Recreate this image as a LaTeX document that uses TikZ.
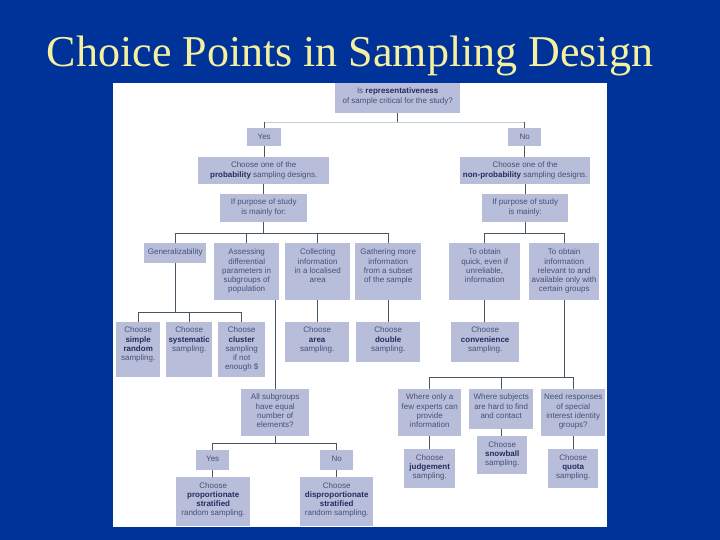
\documentclass[tikz,border=0pt]{standalone}
\usepackage{fontspec}
\setmainfont{Liberation Serif}
\newfontfamily\boxfont{Liberation Sans}
\usetikzlibrary{positioning}

\definecolor{slide}{RGB}{0,51,153}
\definecolor{titlecol}{RGB}{245,240,160}
\definecolor{boxfill}{RGB}{184,190,218}
\definecolor{boxtext}{RGB}{70,80,120}
\definecolor{boldtext}{RGB}{35,45,95}
\definecolor{linecol}{RGB}{70,85,100}
\definecolor{palebar}{RGB}{190,208,215}

\newcommand\kw[1]{\textbf{\color{boldtext}#1}}
% box with its text hung from the top edge
\newcommand\choicebox[6][5]{%
  \node[box, anchor=north west, minimum width=#4pt, minimum height=#5pt] (#2) at (#3) {};
  \node[boxlabel, below=#1pt of #2.north] (#2-t) {#6};}

\begin{document}
\begin{tikzpicture}[x=1pt,y=-1pt,
    box/.style={fill=boxfill, inner sep=0pt},
    boxlabel/.style={align=center, inner sep=0pt, text=boxtext,
      font=\boxfont\fontsize{8}{9.2}\selectfont},
    link/.style={draw=linecol, line width=1.4pt},
    palelink/.style={draw=palebar, line width=1.4pt}]
    %\draw[help lines] (0,0) grid (720,540);
    \fill[slide] (0,0) rectangle (720,540);
    \fill[white] (113,83) rectangle (607,527);
    \node[font=\fontsize{44}{50}\selectfont, text=titlecol, anchor=base] (title) at (350,67) {Choice Points in Sampling Design};

    \choicebox{top}{335,83}{125}{30}{Is \kw{representativeness}\\of sample critical for the study?}
    \choicebox[6]{yes}{247,128}{34}{18}{Yes}
    \choicebox[6]{no}{508,128}{33}{18}{No}
    \choicebox{probL}{198,157}{131}{27}{Choose one of the\\\kw{probability} sampling designs.}
    \choicebox{probR}{460,157}{130}{27}{Choose one of the\\\kw{non-probability} sampling designs.}
    \choicebox{purL}{220,194}{87}{28}{If purpose of study\\is mainly for:}
    \choicebox{purR}{482,194}{86}{28}{If purpose of study\\is mainly:}

    \choicebox[6]{gen}{144,243}{62}{20}{Generalizability}
    \choicebox[6]{assess}{214,243}{65}{57}{Assessing\\differential\\parameters in\\subgroups of\\population}
    \choicebox[6]{collect}{285,243}{65}{57}{Collecting\\information\\in a localised\\area}
    \choicebox[6]{gather}{355,243}{66}{57}{Gathering more\\information\\from a subset\\of the sample}
    \choicebox[6]{quick}{449,243}{71}{57}{To obtain\\quick, even if\\unreliable,\\information}
    \choicebox[6]{relev}{529,243}{70}{57}{To obtain\\information\\relevant to and\\available only with\\certain groups}

    \choicebox{simple}{116,322}{44}{55}{Choose\\\kw{simple}\\\kw{random}\\sampling.}
    \choicebox{syst}{166,322}{46}{55}{Choose\\\kw{systematic}\\sampling.}
    \choicebox{clust}{218,322}{47}{55}{Choose\\\kw{cluster}\\sampling\\if not\\enough \$}
    \choicebox{area}{285,322}{64}{40}{Choose\\\kw{area}\\sampling.}
    \choicebox{double}{356,322}{64}{40}{Choose\\\kw{double}\\sampling.}
    \choicebox{conv}{451,322}{68}{40}{Choose\\\kw{convenience}\\sampling.}

    \choicebox{subg}{241,389}{68}{47}{All subgroups\\have equal\\number of\\elements?}
    \choicebox{experts}{398,389}{63}{47}{Where only a\\few experts can\\provide\\information}
    \choicebox{subj}{469,389}{64}{40}{Where subjects\\are hard to find\\and contact}
    \choicebox{need}{541,389}{64}{47}{Need responses\\of special\\interest identity\\groups?}

    \choicebox[6]{yes2}{196,450}{33}{20}{Yes}
    \choicebox[6]{no2}{320,450}{33}{20}{No}
    \choicebox{prop}{176,477}{74}{49}{Choose\\\kw{proportionate}\\\kw{stratified}\\random sampling.}
    \choicebox{disprop}{300,477}{73}{49}{Choose\\\kw{disproportionate}\\\kw{stratified}\\random sampling.}
    \choicebox{judge}{404,449}{51}{39}{Choose\\\kw{judgement}\\sampling.}
    \choicebox{snow}{477,436}{50}{38}{Choose\\\kw{snowball}\\sampling.}
    \choicebox{quota}{548,449}{50}{39}{Choose\\\kw{quota}\\sampling.}

    % connectors
    \draw[link] (top.south) -- ++(0,9) coordinate (tbar);
    \draw[palelink] (yes.north |- tbar) -- (no.north |- tbar);
    \draw[link] (yes.north) -- (yes.north |- tbar);
    \draw[link] (no.north) -- (no.north |- tbar);
    \draw[link] (yes.south) -- (yes.south |- probL.north);
    \draw[link] (no.south) -- (no.south |- probR.north);
    \draw[link] (probL.south) -- (probL.south |- purL.north);
    \draw[link] (probR.south) -- (probR.south |- purR.north);

    \draw[link] (purL.south) -- ++(0,11) coordinate (lbar);
    \draw[link] (gen.north) |- (gather.north |- lbar) -- (gather.north);
    \draw[link] (assess.north) -- (assess.north |- lbar);
    \draw[link] (collect.north) -- (collect.north |- lbar);

    \draw[link] (purR.south) -- ++(0,11) coordinate (rbar);
    \draw[link] (quick.north) |- (relev.north |- rbar) -- (relev.north);

    \draw[link] (gen.south) -- ++(0,49) coordinate (gbar);
    \draw[link] (simple.north) |- (clust.north |- gbar) -- (clust.north);
    \draw[link] (syst.north) -- (syst.north |- gbar);

    \draw[link] (subg.north |- assess.south) -- (subg.north);
    \draw[link] (collect.south) -- (collect.south |- area.north);
    \draw[link] (gather.south) -- (gather.south |- double.north);
    \draw[link] (quick.south) -- (quick.south |- conv.north);

    \draw[link] (relev.south) -- ++(0,77) coordinate (nbar);
    \draw[link] (experts.north) |- (need.north |- nbar) -- (need.north);
    \draw[link] (subj.north) -- (subj.north |- nbar);
    \draw[link] (experts.south) -- (experts.south |- judge.north);
    \draw[link] (subj.south) -- (subj.south |- snow.north);
    \draw[link] (need.south) -- (need.south |- quota.north);

    \draw[link] (subg.south) -- ++(0,7) coordinate (sbar);
    \draw[link] (yes2.north) |- (no2.north |- sbar) -- (no2.north);
    \draw[link] (yes2.south) -- (yes2.south |- prop.north);
    \draw[link] (no2.south) -- (no2.south |- disprop.north);
\end{tikzpicture}
\end{document}
